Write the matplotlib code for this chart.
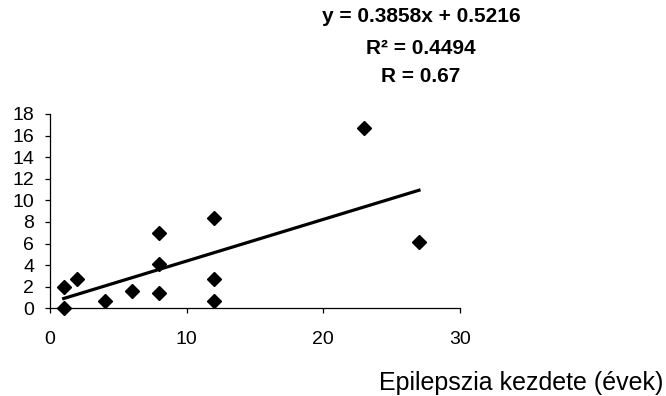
import matplotlib
matplotlib.use("Agg")
import matplotlib.pyplot as plt
import numpy as np

plt.rcParams['font.family'] = ['Liberation Sans', 'DejaVu Sans']

# Data
onset_years = [1, 1, 2, 4, 6, 8, 8, 8, 12, 12, 12, 23, 27]
values = [2.0, 0.0, 2.7, 0.7, 1.6, 7.0, 4.15, 1.45, 8.4, 2.7, 0.7, 16.7, 6.1]
slope = 0.3858
intercept = 0.5216
fit_x = [1, 27]
x_ticks = [0, 10, 20, 30]
y_ticks = [0, 2, 4, 6, 8, 10, 12, 14, 16, 18]
eq_lines = ["y = 0.3858x + 0.5216", "R² = 0.4494", "R = 0.67"]
x_label = "Epilepszia kezdete (évek)"

fig = plt.figure(figsize=(6.66, 3.96), dpi=100)
ax = fig.add_axes([50/666, 1-308.3/396, 410/666, (308.3-114)/396])

ax.plot(onset_years, values, linestyle='none', marker='D', ms=7, color='black', zorder=3, clip_on=False)
fx = np.array(fit_x)
ax.plot(fx, slope*fx + intercept, color='black', lw=2.3, zorder=2)

ax.set_xlim(0, 30)
ax.set_ylim(0, 18)
ax.set_xticks(x_ticks)
ax.set_yticks(y_ticks)
for s in ['top', 'right']:
    ax.spines[s].set_visible(False)
for s in ['left', 'bottom']:
    ax.spines[s].set_linewidth(0.9)
ax.tick_params(axis='x', direction='out', length=3.8, width=0.9, pad=12.5, labelsize=14)
ax.tick_params(axis='y', direction='out', length=3.8, width=0.9, pad=7.5, labelsize=14)

fig.text(663/666, 1-383/396, x_label, ha='right', va='center', fontsize=18)

for t, yy in zip(eq_lines, [17, 48, 77]):
    fig.text(421/666, 1-yy/396, t, ha='center', va='center', fontsize=15, fontweight='bold')

fig.savefig("out.png", dpi=100)
